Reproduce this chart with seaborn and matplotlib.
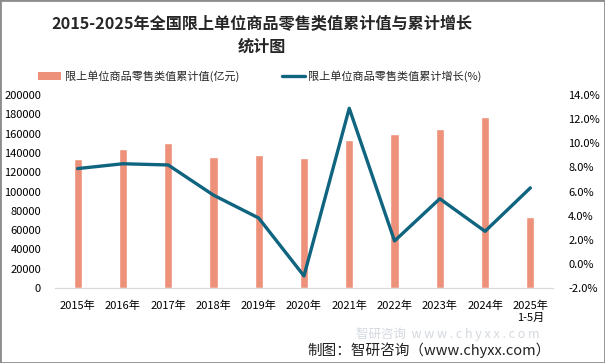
"""限上单位商品零售类值累计值与累计增长 — 柱线组合图。"""

import matplotlib
matplotlib.use("Agg")
import matplotlib.pyplot as plt
import numpy as np
import pandas as pd
import seaborn as sns
from matplotlib.lines import Line2D
from matplotlib.patches import Patch, Rectangle
from matplotlib.ticker import FuncFormatter

years = ["2015年", "2016年", "2017年", "2018年", "2019年", "2020年",
         "2021年", "2022年", "2023年", "2024年", "2025年\n1-5月"]
retail_value = [133900, 144300, 150500, 136000, 138100, 135000,
                153600, 159900, 165000, 177500, 73900]
growth_pct = [7.9, 8.3, 8.2, 5.7, 3.8, -1.0, 12.9, 1.9, 5.4, 2.7, 6.3]

bar_label = "限上单位商品零售类值累计值(亿元)"
line_label = "限上单位商品零售类值累计增长(%)"
title = "2015-2025年全国限上单位商品零售类值累计值与累计增长\n统计图"

BAR_COLOR = "#ee917a"
LINE_COLOR = "#0f6480"

sns.set_style("white")
plt.rcParams["font.family"] = ["Noto Sans CJK SC", "DejaVu Sans"]

df = pd.DataFrame({"年份": years, "累计值": retail_value, "增长": growth_pct})

fig = plt.figure(figsize=(6.05, 3.63), dpi=100)
ax = fig.add_axes([0.0909, 0.2066, 0.8231, 0.5317])

sns.barplot(data=df, x="年份", y="累计值", color=BAR_COLOR, width=0.18,
            saturation=1, ax=ax)
ax.set_xlim(-0.5, len(years) - 0.5)
ax.set_ylim(0, 200000)
ax.set_yticks(np.arange(0, 200001, 20000))
ax.set_xlabel("")
ax.set_ylabel("")

ax2 = ax.twinx()
sns.lineplot(x=np.arange(len(years)), y=growth_pct, color=LINE_COLOR,
             linewidth=2.4, ax=ax2)
ax2.set_ylim(-2, 14)
ax2.set_yticks(np.arange(-2, 14.1, 2))
ax2.yaxis.set_major_formatter(FuncFormatter(lambda v, _: f"{v:.1f}%"))
ax2.set_xlim(-0.5, len(years) - 0.5)

for a in (ax, ax2):
    for side in ("top", "left", "right"):
        a.spines[side].set_visible(False)
    a.spines["bottom"].set_color("#d9d9d9")
    a.tick_params(axis="both", length=0, labelsize=8, colors="black")
ax.tick_params(axis="y", pad=10)
ax2.tick_params(axis="y", pad=11)
ax.tick_params(axis="x", pad=9)

fig.text(0.433, 0.902, title, ha="center", va="center", fontsize=11.6,
         fontweight="bold", linespacing=1.5)

handles = [Patch(facecolor=BAR_COLOR, edgecolor="none"),
           Line2D([], [], color=LINE_COLOR, linewidth=2.4)]
fig.legend(handles, [bar_label, line_label], loc="center",
           bbox_to_anchor=(0.43, 0.79), ncol=2, frameon=False, fontsize=8,
           handlelength=2.0, handleheight=0.6, handletextpad=0.35,
           columnspacing=3.9)

# 水印（放在刻度标签与制图说明之间）
fig.text(0.74, 0.08, "智研咨询  w w w . c h y x x . c o m", ha="center",
         va="center", fontsize=9, color="#c9d0d8", alpha=0.8)

fig.text(0.911, 0.035, "制图：智研咨询（www.chyxx.com）", ha="right",
         va="center", fontsize=10.5, color="#222222")

fig.patches.append(Rectangle((0, 0), 1, 1, transform=fig.transFigure,
                             fill=False, edgecolor="#8c8c8c", linewidth=2))

fig.savefig("out.png", dpi=100)
